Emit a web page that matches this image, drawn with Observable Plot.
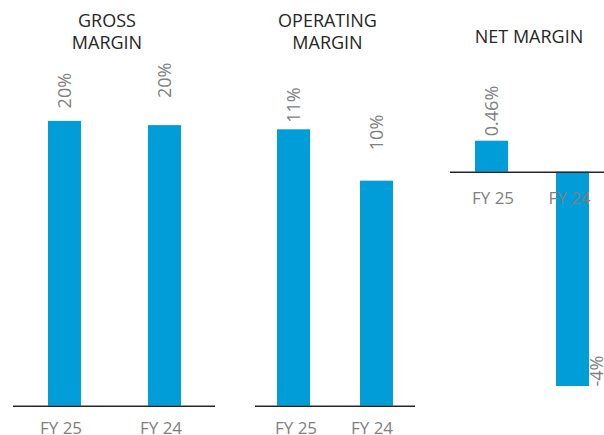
<!DOCTYPE html>
<html>
<head>
<meta charset="utf-8">
<script src="https://cdn.jsdelivr.net/npm/d3@7"></script>
<script src="https://cdn.jsdelivr.net/npm/@observablehq/plot@0.6"></script>
<style>
  html, body { margin: 0; padding: 0; background: #fff; overflow: hidden; }
  #chart { position: relative; width: 604px; height: 435px; overflow: hidden; background: #fff; font-family: "Open Sans", sans-serif; }
  .panel { position: absolute; top: 0; }
  .title { position: absolute; font-size: 18px; line-height: 21.5px; color: #262626; text-align: center; white-space: pre; transform: translateX(-50%); }
</style>
</head>
<body>
<div id="chart"></div>
<script>
// ---- data ----
const categories = ["FY 25", "FY 24"];
const grossValues = [20.3, 20.0];
const grossLabels = ["20%", "20%"];
const operatingValues = [11.3, 9.2];
const operatingLabels = ["11%", "10%"];
const netValues = [0.46, -3.18];
const netLabels = ["0.46%", "-4%"];
const panelTitles = ["GROSS\nMARGIN", "OPERATING\nMARGIN", "NET MARGIN"];

// ---- layout / style ----
const barColor = "#009dd9";
const labelColor = "#7f7f7f";
const font = "Open Sans";

const panels = [
  {values: grossValues, labels: grossLabels, title: panelTitles[0],
   left: 0, width: 235, ml: 13, mr: 20, pi: 0.67, po: 0.345,
   domain: [0, 25], zeroY: 405.7, pxPer: 14.03,
   valueOffsets: [[0, -13], [0, -27.5]], catOffsets: [[-4, 22.5], [-4, 22.5]],
   titleX: 107, titleTop: 10},
  {values: operatingValues, labels: operatingLabels, title: panelTitles[1],
   left: 235, width: 200, ml: 20, mr: 20, pi: 0.607, po: 0.256,
   domain: [0, 14], zeroY: 405.7, pxPer: 24.46,
   valueOffsets: [[0, -7], [0, -31]], catOffsets: [[2, 22.5], [-5, 22.5]],
   titleX: 327.5, titleTop: 10},
  {values: netValues, labels: netLabels, title: panelTitles[2],
   left: 435, width: 179, ml: 15, mr: 0, pi: 0.597, po: 0.31,
   domain: [-3.5, 1], zeroY: 171.7, pxPer: 67.4,
   valueOffsets: [[0, -5], [24, 0]], catOffsets: [[1, 26.3], [-3.5, 26.3]],
   titleX: 529, titleTop: 26}
];

const chart = document.getElementById("chart");

for (const p of panels) {
  const data = categories.map((c, i) => ({cat: c, value: p.values[i], label: p.labels[i]}));
  const marks = [
    Plot.barY(data, {x: "cat", y: "value", fill: barColor}),
    Plot.ruleY([0], {stroke: "#262626", strokeWidth: 1.4})
  ];
  data.forEach((d, i) => {
    marks.push(Plot.text([d], {
      x: "cat", y: "value", text: "label", rotate: -90, textAnchor: "start",
      dx: p.valueOffsets[i][0], dy: p.valueOffsets[i][1],
      fill: labelColor, fontSize: 18, fontFamily: font
    }));
    marks.push(Plot.text([d], {
      x: "cat", y: () => 0, text: "cat",
      dx: p.catOffsets[i][0], dy: p.catOffsets[i][1],
      fill: labelColor, fontSize: 17, fontFamily: font
    }));
  });
  const svg = Plot.plot({
    width: p.width,
    height: 435,
    marginLeft: p.ml,
    marginRight: p.mr,
    marginTop: 0,
    marginBottom: 0,
    style: {background: "transparent", fontFamily: font, overflow: "visible"},
    x: {domain: categories, paddingInner: p.pi, paddingOuter: p.po, axis: null},
    y: {domain: p.domain, range: [p.zeroY - p.domain[0] * p.pxPer, p.zeroY - p.domain[1] * p.pxPer], axis: null},
    marks
  });
  svg.classList.add("panel");
  svg.style.left = p.left + "px";
  svg.style.maxWidth = "none";
  chart.appendChild(svg);

  const t = document.createElement("div");
  t.className = "title";
  t.textContent = p.title;
  t.style.left = p.titleX + "px";
  t.style.top = p.titleTop + "px";
  chart.appendChild(t);
}
</script>
</body>
</html>
